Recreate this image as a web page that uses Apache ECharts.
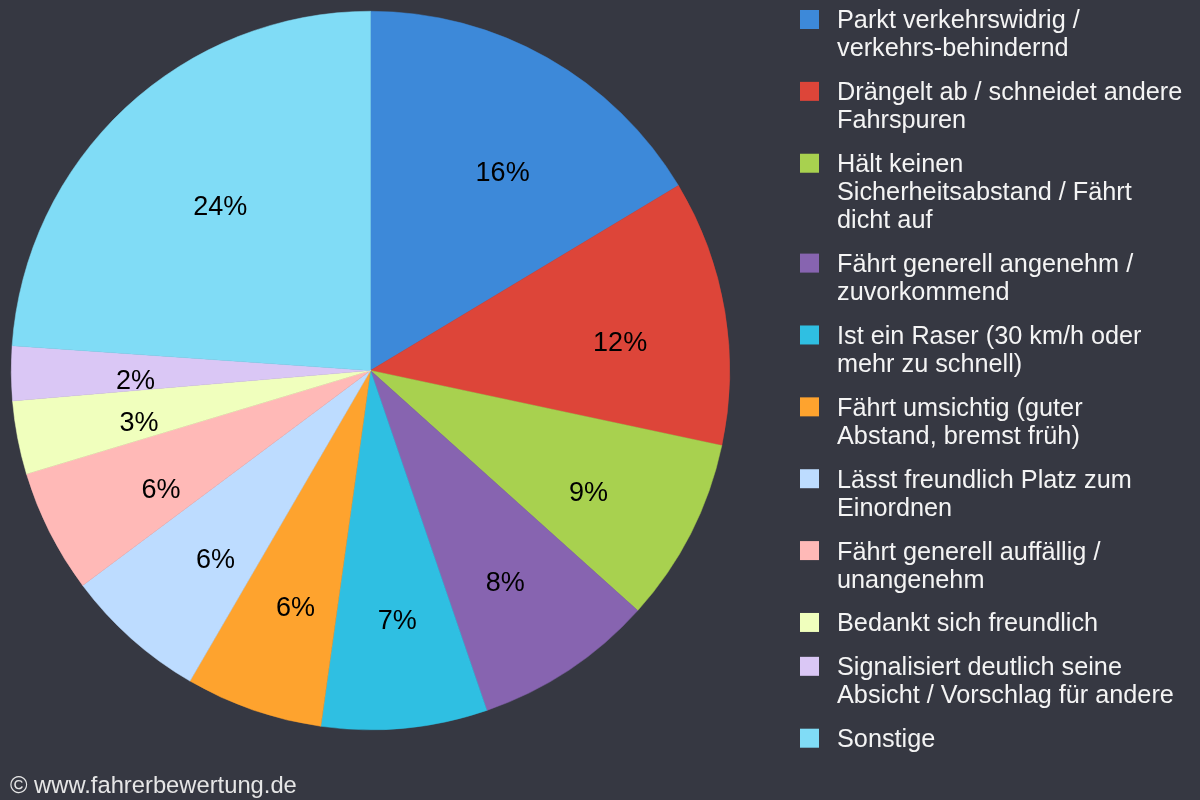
<!DOCTYPE html>
<html>
<head>
<meta charset="utf-8">
<title>Fahrerbewertung</title>
<script src="https://cdn.jsdelivr.net/npm/echarts@6/dist/echarts.min.js"></script>
<style>
  html, body { margin: 0; padding: 0; background: #363842; }
  #chart { width: 1200px; height: 800px; }
</style>
</head>
<body>
<div id="chart"></div>
<script>
const categories = [
  "Parkt verkehrswidrig /\nverkehrs-behindernd",
  "Drängelt ab / schneidet andere\nFahrspuren",
  "Hält keinen\nSicherheitsabstand / Fährt\ndicht auf",
  "Fährt generell angenehm /\nzuvorkommend",
  "Ist ein Raser (30 km/h oder\nmehr zu schnell)",
  "Fährt umsichtig (guter\nAbstand, bremst früh)",
  "Lässt freundlich Platz zum\nEinordnen",
  "Fährt generell auffällig /\nunangenehm",
  "Bedankt sich freundlich",
  "Signalisiert deutlich seine\nAbsicht / Vorschlag für andere",
  "Sonstige"
];
const shares = [16.39, 11.96, 8.3, 8.1, 7.46, 6.17, 6.41, 5.56, 3.3, 2.45, 23.9];
const shareLabels = ["16%", "12%", "9%", "8%", "7%", "6%", "6%", "6%", "3%", "2%", "24%"];
const colors = ["#3d89d9", "#dd4539", "#a8d14f", "#8764b0", "#2fbfe2", "#fea32e", "#bddcff", "#ffb9b7", "#f0ffbd", "#dac7f5", "#80dcf6"];

const FONT = '"Liberation Sans", Arial, sans-serif';
const chart = echarts.init(document.getElementById("chart"), null, { renderer: "canvas" });

// Feinkorrektur der Prozentzahlen gegenüber der Ringmitte
const labelNudge = [[10, 19], [5, 14], [-3, 10], [-2, 6], [3, 4], [6, 4], [10, 5], [12, 8], [12, 7], [13, 9], [19, 18]];

// eine Legende pro Eintrag, damit das Kästchen auf der ersten Zeile sitzt
const legends = [];
let iconY = 20.5;
categories.forEach((name) => {
  const parts = name.split("\n");
  const lines = parts.length;
  legends.push({
    data: [name],
    orient: "vertical",
    left: 800,
    top: iconY - 2 - (2 * lines - 1) * 14,
    padding: 0,
    itemWidth: 19,
    itemHeight: 19,
    icon: "rect",
    itemStyle: { borderWidth: 0 },
    selectedMode: false,
    // Leerzeilen oben halten das Kästchen auf Höhe der ersten Textzeile
    formatter: () => ["{g| }"].concat(parts.slice(1).map(() => "{t| }"), parts.map((p) => "{t|" + p + "}")).join("\n"),
    textStyle: {
      color: "#f4f4f4",
      fontFamily: FONT,
      fontSize: 25.25,
      padding: [0, 0, 0, 13],
      rich: {
        g: { fontSize: 2, lineHeight: 4 },
        t: { color: "#f4f4f4", fontFamily: FONT, fontSize: 25.25, lineHeight: 28 }
      }
    }
  });
  iconY += lines * 28 + 15.87;
});

chart.setOption({
  backgroundColor: "#363842",
  animation: false,
  color: colors,
  title: {
    text: "© www.fahrerbewertung.de",
    left: 10,
    top: 774,
    padding: 0,
    textStyle: { color: "#e6e6e6", fontFamily: FONT, fontSize: 23.75, fontWeight: "normal" }
  },
  legend: legends,
  series: [
    {
      type: "pie",
      center: [370.5, 370.5],
      radius: [0, 359.25],
      startAngle: 90,
      silent: true,
      label: { show: false },
      labelLine: { show: false },
      data: categories.map((name, i) => ({
        name,
        value: shares[i],
        itemStyle: { borderColor: colors[i], borderWidth: 0.5 }
      }))
    },
    {
      // nur für die Prozentzahlen, Ring ist durchsichtig
      type: "pie",
      center: [370.5, 370.5],
      radius: [130, 360],
      startAngle: 90,
      silent: true,
      itemStyle: { color: "transparent" },
      labelLine: { show: false },
      label: {
        show: true,
        position: "inside",
        color: "#000",
        fontFamily: FONT,
        fontSize: 27
      },
      data: categories.map((name, i) => ({
        name,
        value: shares[i],
        label: { formatter: shareLabels[i], offset: labelNudge[i] }
      }))
    }
  ]
});
</script>
</body>
</html>
